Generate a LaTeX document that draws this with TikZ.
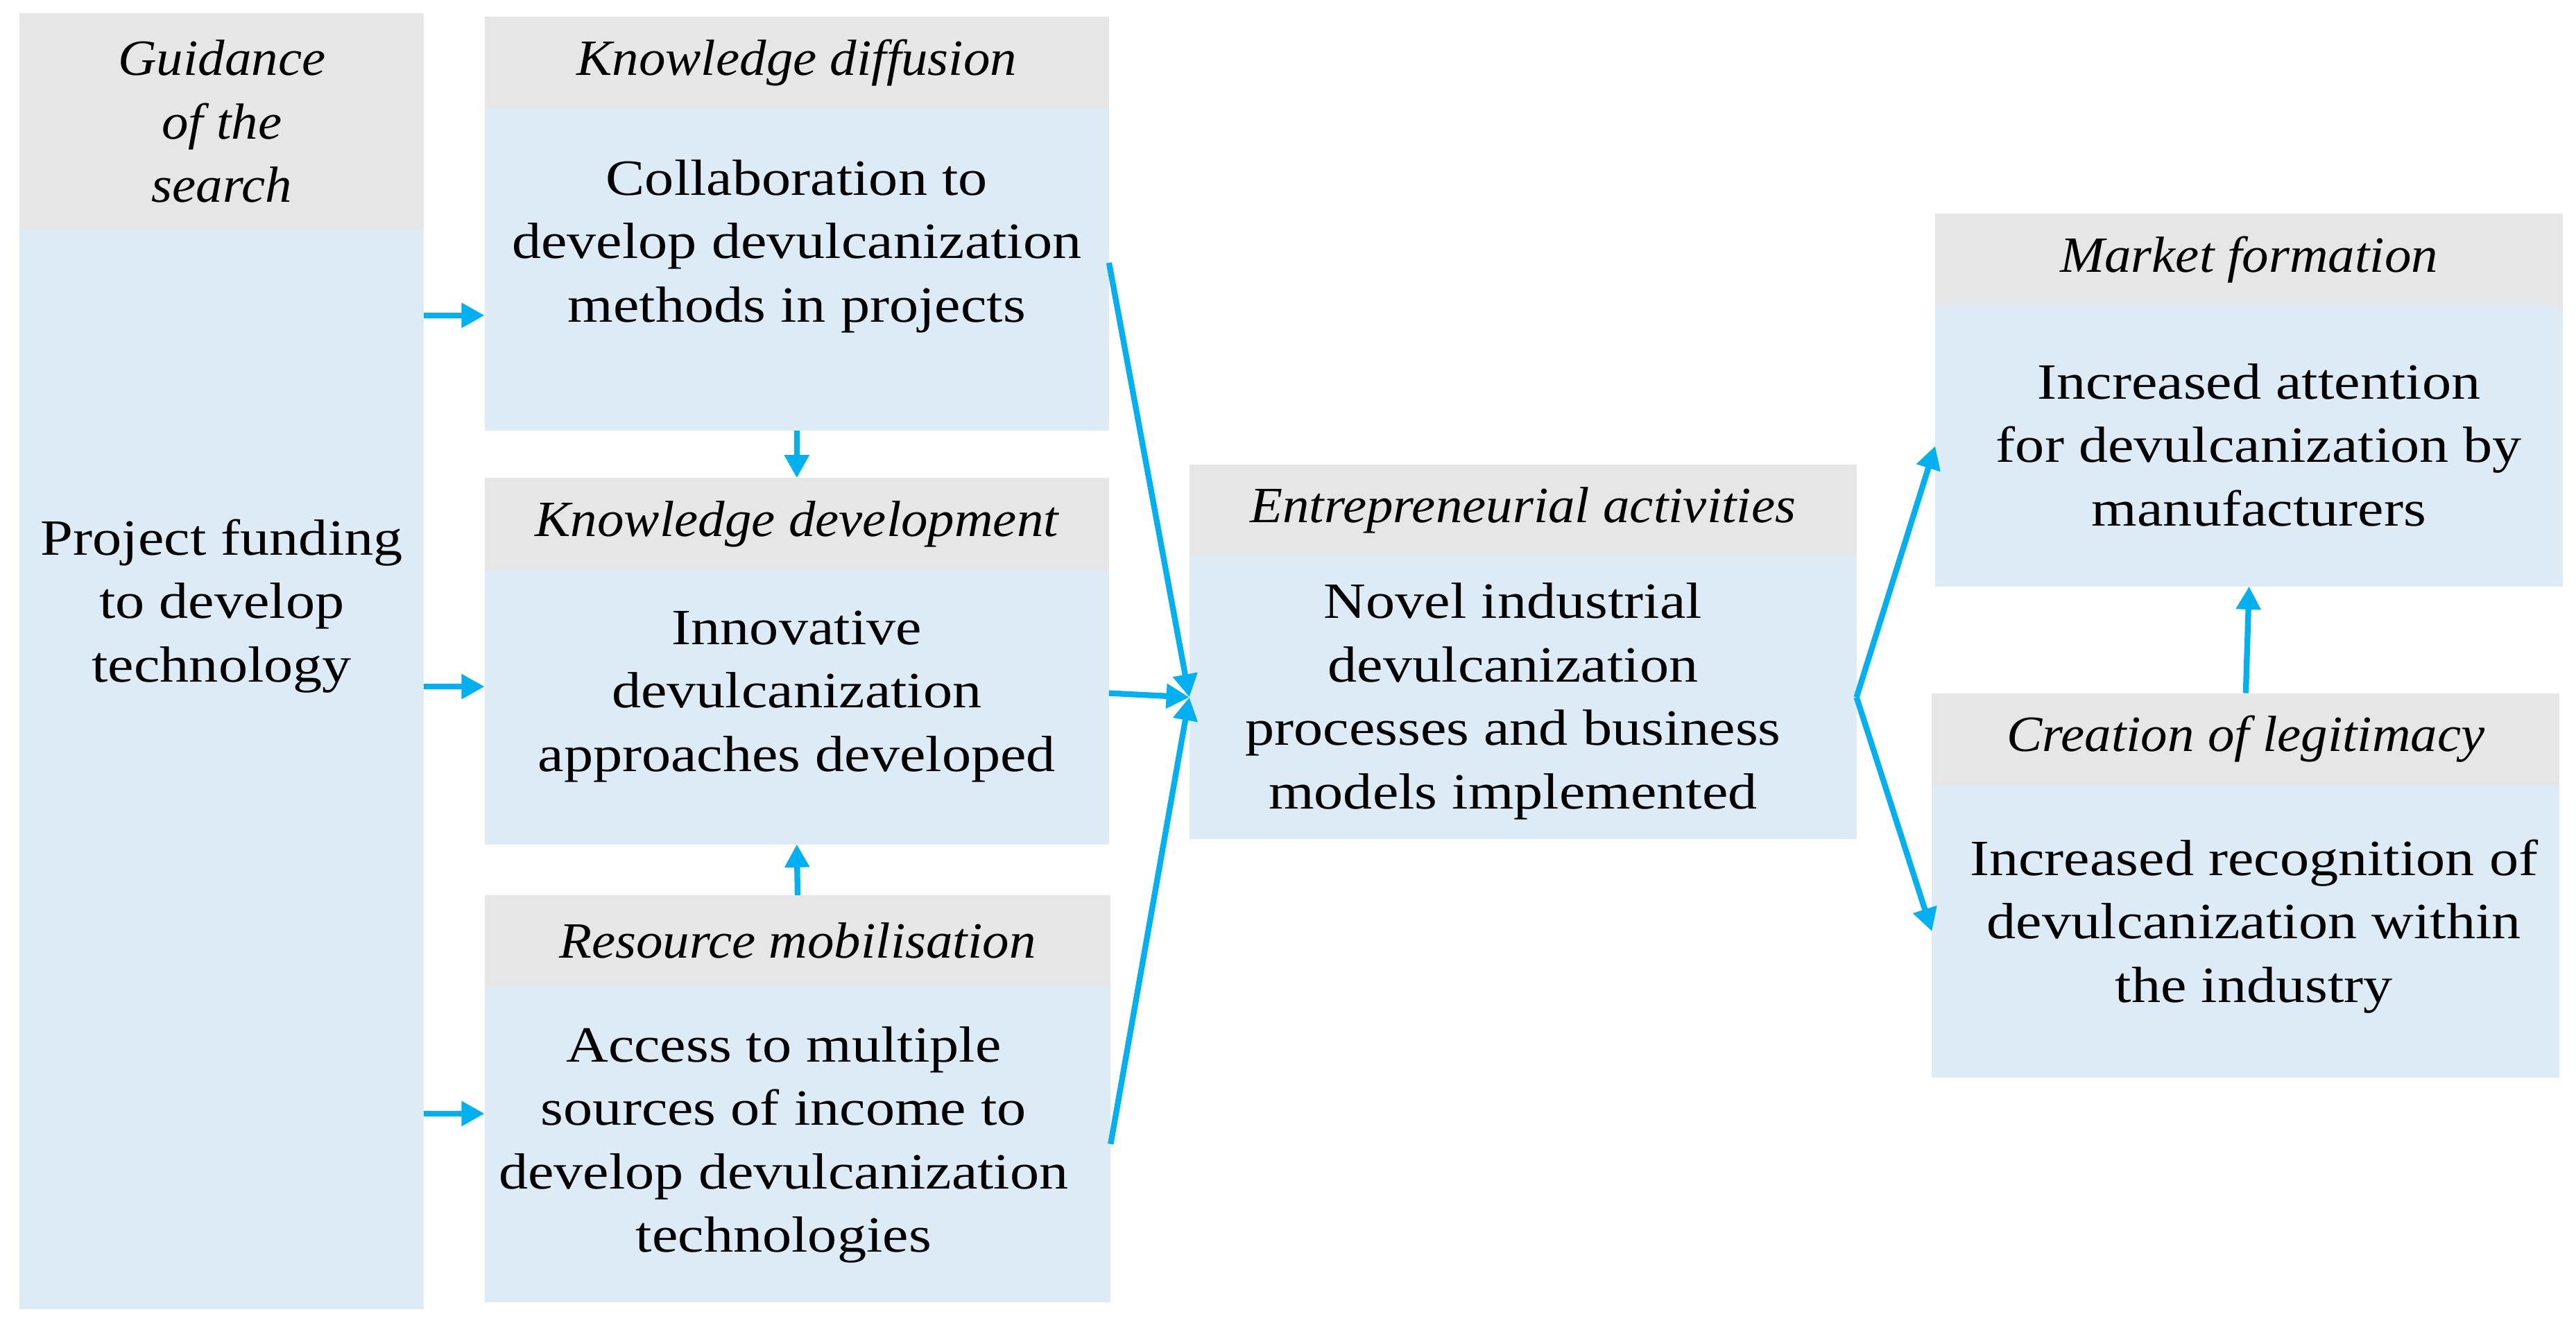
\documentclass[tikz,border=0pt]{standalone}
\usepackage{fontspec}
\setmainfont{Liberation Serif}[FakeStretch=1.15]
\newfontfamily\headfont{Liberation Serif}[FakeStretch=1.05]
\usetikzlibrary{arrows.meta}
\definecolor{headgray}{HTML}{E7E6E6}
\definecolor{bodyblue}{HTML}{DDEBF7}
\definecolor{flowcyan}{HTML}{00B0F0}

\begin{document}
\begin{tikzpicture}[x=0.025cm,y=-0.025cm,
  head/.style={fill=headgray,inner sep=0pt,outer sep=0pt,minimum height=1.4cm,align=center,font=\fontsize{22}{27.5}\headfont\itshape},
  body/.style={fill=bodyblue,inner sep=0pt,outer sep=0pt},
  txt/.style={align=center,inner sep=0pt,font=\fontsize{22}{27.5}\selectfont},
  flow/.style={-{Triangle[length=0.35cm,width=0.36cm]},flowcyan,line width=2.5pt}]

% Frame
\useasboundingbox (0,0) rectangle (1568,804);

% Guidance of the search
\node[head,minimum width=6.15cm,minimum height=3.3cm] (guidehead) at (135,74) {Guidance\\of the\\search};
\node[body,minimum width=6.15cm,minimum height=16.425cm] (guide) at (135,468.5) {};
\node[txt] (guidetxt) at (135,369) {Project funding\\to develop\\technology};

% Knowledge diffusion
\node[head,minimum width=9.5cm] (kdiffhead) at (485,38) {Knowledge diffusion};
\node[body,minimum width=9.5cm,minimum height=4.9cm] (kdiff) at (485,164) {};
\node[txt] (kdifftxt) at (485,150) {Collaboration to\\develop devulcanization\\methods in projects};

% Knowledge development
\node[head,minimum width=9.5cm] (kdevhead) at (485,319) {Knowledge development};
\node[body,minimum width=9.5cm,minimum height=4.175cm] (kdev) at (485,430.5) {};
\node[txt] (kdevtxt) at (485,424) {Innovative\\devulcanization\\approaches developed};

% Resource mobilisation
\node[head,minimum width=9.525cm,minimum height=1.375cm] (rmhead) at (485.5,572.5) {Resource mobilisation};
\node[body,minimum width=9.525cm,minimum height=4.825cm] (rm) at (485.5,696.5) {};
\node[txt] (rmtxt) at (477,697) {Access to multiple\\sources of income to\\develop devulcanization\\technologies};

% Entrepreneurial activities
\node[head,minimum width=10.15cm,minimum height=1.375cm] (entrhead) at (927,310.5) {Entrepreneurial activities};
\node[body,minimum width=10.15cm,minimum height=4.325cm] (entr) at (927,424.5) {};
\node[txt] (entrtxt) at (921,427) {Novel industrial\\devulcanization\\processes and business\\models implemented};

% Market formation
\node[head,minimum width=9.55cm] (mfhead) at (1369,158) {Market formation};
\node[body,minimum width=9.55cm,minimum height=4.275cm] (mf) at (1369,271.5) {};
\node[txt] (mftxt) at (1375,271) {Increased attention\\for devulcanization by\\manufacturers};

% Creation of legitimacy
\node[head,minimum width=9.55cm] (clhead) at (1367,450) {Creation of legitimacy};
\node[body,minimum width=9.55cm,minimum height=4.45cm] (cl) at (1367,567) {};
\node[txt] (cltxt) at (1372,564) {Increased recognition of\\devulcanization within\\the industry};

% Flows
\draw[flow] (guide.east |- 0,192) -- (kdiff.west |- 0,192);
\draw[flow] (guide.east |- 0,418) -- (kdev.west |- 0,418);
\draw[flow] (guide.east |- 0,678) -- (rm.west |- 0,678);
\draw[flow] (kdiff.south) -- (kdevhead.north);
\draw[flow] (rmhead.north) -- (kdev.south);
\draw[flow] (kdiff.east |- 0,160) -- (entr.west);
\draw[flow] (kdev.east |- 0,422) -- (entr.west);
\draw[flow] (rm.east) -- (entr.west);
\draw[flow] (entr.east) -- (mf.west);
\draw[flow] (entr.east) -- (cl.west);
\draw[flow] (clhead.north) -- (mf.south);

\end{tikzpicture}
\end{document}
